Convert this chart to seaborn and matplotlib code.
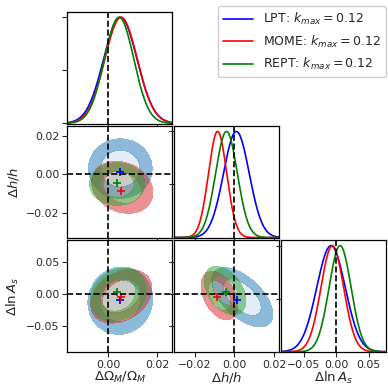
import numpy as np
import matplotlib
matplotlib.use("Agg")
import matplotlib.pyplot as plt
import matplotlib.colors as mcolors
import seaborn as sns

# ---------------- data ----------------
models = ["LPT", "MOME", "REPT"]
kmax_label = "0.12"
line_colors = ["blue", "red", "green"]
fill_colors = ["tab:blue", "tab:red", "tab:green"]

param_labels = [r"$\Delta\Omega_M/\Omega_M$", r"$\Delta h/h$", r"$\Delta \ln A_s$"]
col_limits = [(-0.0167, 0.0261), (-0.0305, 0.0226), (-0.085, 0.077)]
row_limits = [(-0.0167, 0.0261), (-0.033, 0.025), (-0.092, 0.084)]
tick_values = [[0.0, 0.02], [-0.02, 0.0, 0.02], [-0.05, 0.0, 0.05]]
tick_labels = [["0.00", "0.02"], ["\u22120.02", "0.00", "0.02"], ["\u22120.05", "0.00", "0.05"]]

# 1D marginals (mean, sigma) per parameter per model
mean_om = [0.0050, 0.0053, 0.0045]
sig_om = [0.0068, 0.0066, 0.0060]
mean_h = [0.0010, -0.0085, -0.0040]
sig_h = [0.0065, 0.0046, 0.0055]
mean_as = [-0.0080, -0.0060, 0.0060]
sig_as = [0.0220, 0.0175, 0.0170]

# best-fit markers
best_om = [0.0047, 0.0053, 0.0038]
best_h = [0.0011, -0.0087, -0.0045]
best_as = [-0.0094, -0.0045, 0.0025]

# 2D contours: centre, sigmas, correlation
om_h_center = [(0.0050, 0.0030), (0.0058, -0.0067), (0.0037, -0.0050)]
om_h_sigma = [(0.0053, 0.0063), (0.0051, 0.0055), (0.0046, 0.0045)]
om_h_rho = [0.0, -0.2, 0.0]

om_as_center = [(0.0050, -0.0110), (0.0054, -0.0040), (0.0042, -0.0015)]
om_as_sigma = [(0.0054, 0.0216), (0.0051, 0.0172), (0.0047, 0.0170)]
om_as_rho = [0.05, 0.3, 0.2]

h_as_center = [(0.0040, -0.0055), (-0.0076, -0.0030), (-0.0047, 0.0050)]
h_as_sigma = [(0.0063, 0.0190), (0.0038, 0.0155), (0.0043, 0.0155)]
h_as_rho = [-0.58, -0.4, -0.42]

# ---------------- style ----------------
sns.set_style("ticks")
plt.rcParams["font.family"] = ["DejaVu Sans"]
plt.rcParams["mathtext.fontset"] = "dejavusans"
plt.rcParams["axes.edgecolor"] = "black"
plt.rcParams["axes.linewidth"] = 0.9

fig, axes = plt.subplots(3, 3, figsize=(3.88, 3.85), dpi=100)
fig.subplots_adjust(left=0.173, right=0.995, bottom=0.085, top=0.969,
                    wspace=0.02, hspace=0.02)

means_1d = [mean_om, mean_h, mean_as]
sigs_1d = [sig_om, sig_h, sig_as]
best = [best_om, best_h, best_as]
pairs = {(1, 0): (om_h_center, om_h_sigma, om_h_rho),
         (2, 0): (om_as_center, om_as_sigma, om_as_rho),
         (2, 1): (h_as_center, h_as_sigma, h_as_rho)}

for i in range(3):
    for j in range(3):
        ax = axes[i, j]
        if j > i:
            ax.axis("off")
            continue
        ax.set_xlim(col_limits[j])
        ax.set_xticks(tick_values[j])
        if i == j:
            xs = np.linspace(col_limits[j][0], col_limits[j][1], 400)
            for k in range(3):
                ys = np.exp(-0.5 * ((xs - means_1d[j][k]) / sigs_1d[j][k]) ** 2)
                sns.lineplot(x=xs, y=ys, ax=ax, color=line_colors[k], lw=1.2,
                             estimator=None, sort=False)
            ax.set_ylim(-0.005, 1.05)
            ax.set_yticks([0, 0.5, 1.0])
            ax.set_yticklabels([])
            ax.axvline(0, color="black", ls="--", lw=1.2)
        else:
            ax.set_ylim(row_limits[i])
            ax.set_yticks(tick_values[i])
            centers, sigmas, rhos = pairs[(i, j)]
            gx = np.linspace(col_limits[j][0], col_limits[j][1], 300)
            gy = np.linspace(row_limits[i][0], row_limits[i][1], 300)
            X, Y = np.meshgrid(gx, gy)
            for k in range(3):
                (cx, cy), (sx, sy), r = centers[k], sigmas[k], rhos[k]
                dx = (X - cx) / sx
                dy = (Y - cy) / sy
                chi2 = (dx ** 2 - 2 * r * dx * dy + dy ** 2) / (1 - r ** 2)
                ax.contourf(X, Y, chi2, levels=[0, 2.30, 5.99],
                            colors=[mcolors.to_rgba(fill_colors[k], 0.13),
                                    mcolors.to_rgba(fill_colors[k], 0.5)])
            for k in range(3):
                ax.plot(best[j][k], best[i][k], marker="+", ms=6, mew=1.2,
                        color=line_colors[k], ls="none")
            ax.axvline(0, color="black", ls="--", lw=1.2)
            ax.axhline(0, color="black", ls="--", lw=1.2)
            if j == 0:
                ax.set_yticklabels(tick_labels[i])
                ax.set_ylabel(param_labels[i], fontsize=9.5)
            else:
                ax.set_yticklabels([])
        if i == 2:
            ax.set_xticklabels(tick_labels[j])
            ax.set_xlabel(param_labels[j], fontsize=9.5, labelpad=0)
        else:
            ax.set_xticklabels([])
        ax.tick_params(direction="out", length=3.5, width=0.8, labelsize=7.8,
                       pad=2)

fig.align_ylabels(axes[:, 0])

handles = [plt.Line2D([], [], color=line_colors[k], lw=1.2) for k in range(3)]
labels = [f"{m}: $k_{{max}} = {kmax_label}$" for m in models]
fig.legend(handles, labels, loc="upper right", bbox_to_anchor=(1.0, 0.99),
           fontsize=9, handlelength=2.4, borderaxespad=0.2, framealpha=1)

fig.savefig("out.png", dpi=100)
